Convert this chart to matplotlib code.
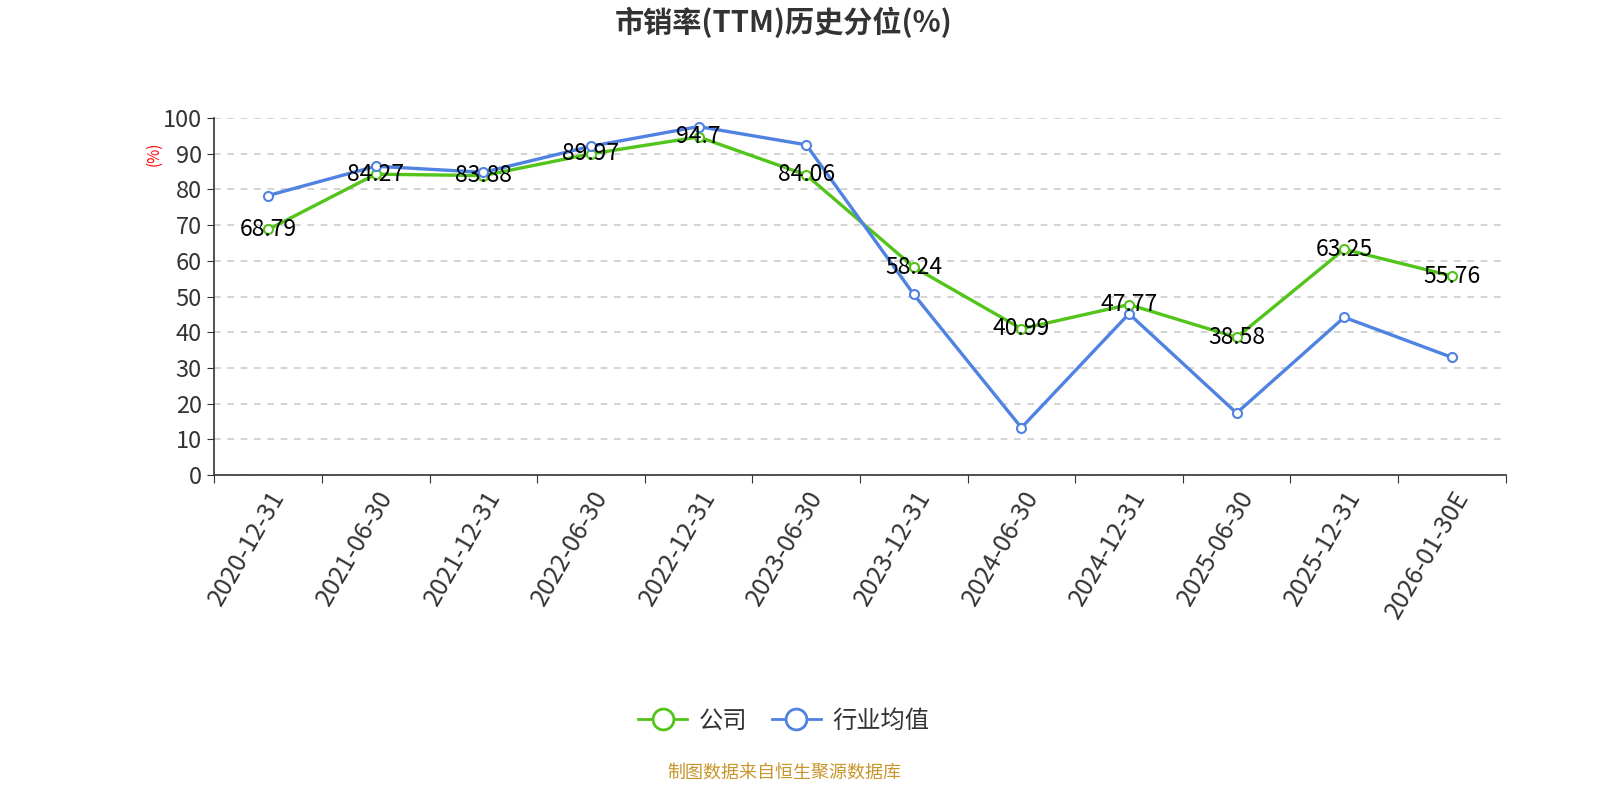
import matplotlib
matplotlib.use("Agg")
import matplotlib.pyplot as plt
import matplotlib.transforms as mtransforms
from matplotlib.lines import Line2D
import numpy as np

plt.rcParams["font.family"] = ["Noto Sans CJK SC", "DejaVu Sans"]

# data
dates = ["2020-12-31", "2021-06-30", "2021-12-31", "2022-06-30", "2022-12-31",
         "2023-06-30", "2023-12-31", "2024-06-30", "2024-12-31", "2025-06-30",
         "2025-12-31", "2026-01-30E"]
company = [68.79, 84.27, 83.88, 89.97, 94.7, 84.06, 58.24, 40.99, 47.77, 38.58, 63.25, 55.76]
industry = [78.3, 86.5, 84.8, 92.1, 97.6, 92.5, 50.6, 13.3, 45.2, 17.4, 44.2, 33.0]

title = "市销率(TTM)历史分位(%)"
series_names = ["公司", "行业均值"]
source_note = "制图数据来自恒生聚源数据库"

GREEN = "#52C41A"
BLUE = "#4F82E1"

fig = plt.figure(figsize=(16, 8), dpi=100)
ax = fig.add_axes([0.134, 0.406, 0.807, 0.4465])

x = np.arange(len(dates))
ax.plot(x, company, color=GREEN, lw=2.4, marker="o", ms=6.5,
        mfc="white", mec=GREEN, mew=1.5, zorder=3)
ax.plot(x, industry, color=BLUE, lw=2.4, marker="o", ms=6.5,
        mfc="white", mec=BLUE, mew=1.5, zorder=3)

for xi, v in zip(x, company):
    ax.text(xi, v, f"{v:g}", ha="center", va="center", fontsize=16.5,
            color="black", zorder=4)

ax.set_xlim(-0.5, len(dates) - 0.5)
ax.set_ylim(0, 100)
ax.set_yticks(range(0, 101, 10))
ax.set_xticks(np.arange(-0.5, len(dates), 1.0))
ax.set_xticklabels([])
ax.set_xticks(x, minor=True)
ax.set_xticklabels(dates, minor=True, rotation=60, ha="right",
                   rotation_mode="anchor", fontsize=18, color="#333333")
# nudge the rotated labels a bit left so their top end sits under the point
shift = mtransforms.ScaledTranslation(-10 / 72, 0, fig.dpi_scale_trans)
for lbl in ax.get_xticklabels(minor=True):
    lbl.set_transform(lbl.get_transform() + shift)
ax.tick_params(axis="x", which="minor", length=0, pad=8)
ax.tick_params(axis="x", which="major", length=6, color="#333333")
ax.tick_params(axis="y", length=5, labelsize=17, labelcolor="#333333",
               color="#333333", pad=4)

ax.grid(axis="y", linestyle=(0, (4, 4)), color="#cccccc", lw=1.2)
ax.set_axisbelow(True)
for s in ["top", "right"]:
    ax.spines[s].set_visible(False)
ax.spines["left"].set_color("#333333")
ax.spines["bottom"].set_color("#333333")
ax.spines["left"].set_linewidth(1.2)
ax.spines["bottom"].set_linewidth(1.2)

fig.text(0.096, 0.808, "(%)", color="red", fontsize=11, rotation=90,
         ha="center", va="center")

fig.text(0.49, 0.972, title, ha="center", va="center", fontsize=21,
         fontweight="bold", color="#333333")

handles = [
    Line2D([], [], color=GREEN, lw=2, marker="o", ms=15, mfc="white",
           mec=GREEN, mew=2),
    Line2D([], [], color=BLUE, lw=2, marker="o", ms=15, mfc="white",
           mec=BLUE, mew=2),
]
fig.legend(handles, series_names, loc="center", bbox_to_anchor=(0.49, 0.099),
           ncol=2, frameon=False, fontsize=17.5, handlelength=2.0,
           columnspacing=1.0, handletextpad=0.5, labelcolor="#333333")

fig.text(0.49, 0.034, source_note, ha="center", va="center", fontsize=13,
         color="#C8962D")

fig.savefig("out.png", dpi=100)
